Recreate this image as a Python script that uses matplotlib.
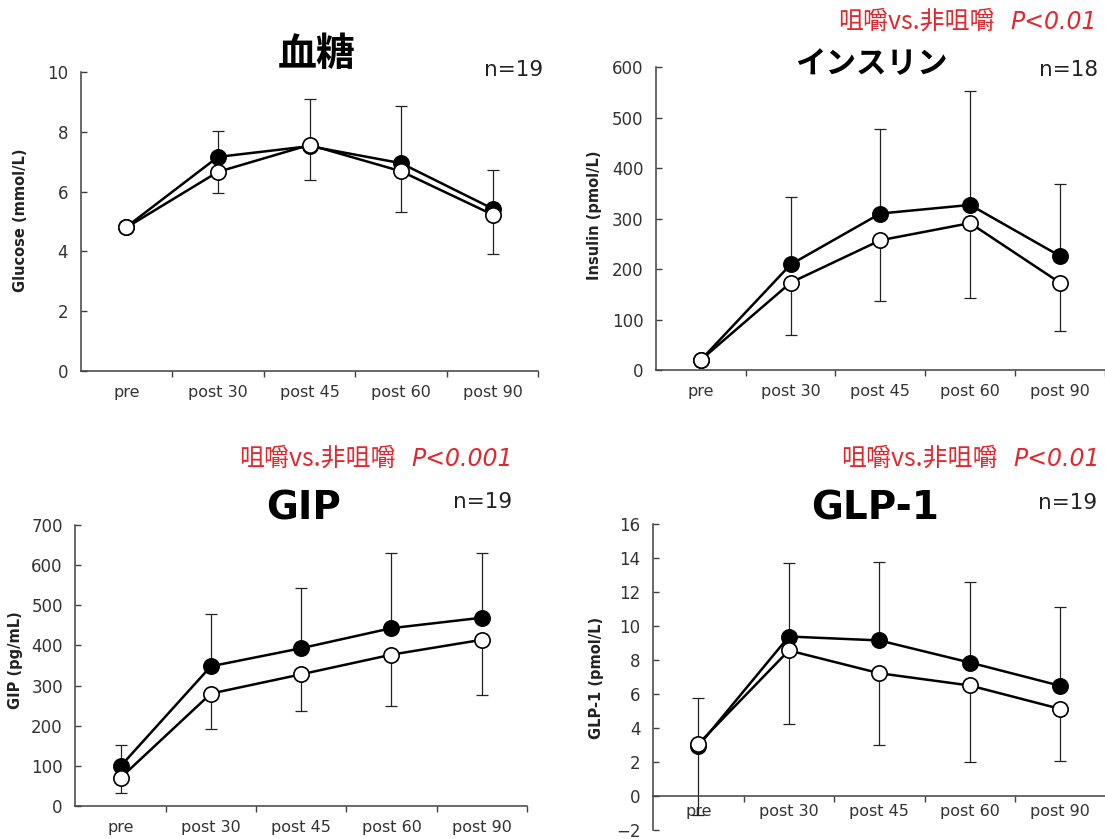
import matplotlib.pyplot as plt
import numpy as np

plt.rcParams['font.family'] = ['DejaVu Sans', 'Noto Sans CJK JP']

times = ['pre', 'post 30', 'post 45', 'post 60', 'post 90']

# glucose (mmol/L)
glu_chew = [4.82, 7.16, 7.52, 6.95, 5.43]
glu_non = [4.80, 6.66, 7.56, 6.68, 5.23]
glu_top = [4.82, 8.03, 9.10, 8.87, 6.71]
glu_bot = [4.80, 5.96, 6.38, 5.32, 3.90]

# insulin (pmol/L)
ins_chew = [20, 209, 310, 327, 226]
ins_non = [20, 173, 257, 291, 173]
ins_top = [20, 342, 478, 552, 368]
ins_bot = [20, 70, 137, 142, 77]

# GIP (pg/mL)
gip_chew = [99, 348, 393, 443, 469]
gip_non = [70, 280, 328, 377, 414]
gip_top = [153, 478, 542, 629, 630]
gip_bot = [32, 191, 237, 249, 277]

# GLP-1 (pmol/L)
glp_chew = [2.94, 9.38, 9.15, 7.85, 6.48]
glp_non = [3.06, 8.56, 7.22, 6.50, 5.12]
glp_top = [5.79, 13.70, 13.74, 12.58, 11.09]
glp_bot = [-1.1, 4.22, 3.00, 2.02, 2.08]

panels = [
    dict(title='血糖', tsize=28, n='n=19', ylabel='Glucose (mmol/L)',
         chew=glu_chew, non=glu_non, top=glu_top, bot=glu_bot,
         ylim=(0, 10), yticks=np.arange(0, 11, 2), p=None,
         pos=[0.0730, 0.5578, 0.4142, 0.3564],
         title_xy=(317, 55), n_xy=(543, 70), yl_xy=(21, 220), p_xy=None),
    dict(title='インスリン', tsize=22, n='n=18', ylabel='Insulin (pmol/L)',
         chew=ins_chew, non=ins_non, top=ins_top, bot=ins_bot,
         ylim=(0, 600), yticks=np.arange(0, 601, 100), p='P<0.01',
         pos=[0.5937, 0.559, 0.406, 0.361],
         title_xy=(871, 65), n_xy=(1098, 70), yl_xy=(595, 215), p_xy=(1097, 22)),
    dict(title='GIP', tsize=28, n='n=19', ylabel='GIP (pg/mL)',
         chew=gip_chew, non=gip_non, top=gip_top, bot=gip_bot,
         ylim=(0, 700), yticks=np.arange(0, 701, 100), p='P<0.001',
         pos=[0.0682, 0.0393, 0.4087, 0.3350],
         title_xy=(304, 508), n_xy=(512, 502), yl_xy=(16, 660), p_xy=(513, 459)),
    dict(title='GLP-1', tsize=28, n='n=19', ylabel='GLP-1 (pmol/L)',
         chew=glp_chew, non=glp_non, top=glp_top, bot=glp_bot,
         ylim=(-2, 16), yticks=np.arange(-2, 17, 2), p='P<0.01',
         pos=[0.5910, 0.0107, 0.4096, 0.3648],
         title_xy=(875, 508), n_xy=(1097, 503), yl_xy=(596, 678), p_xy=(1100, 459)),
]

W, H = 1105, 839
fig = plt.figure(figsize=(W / 100, H / 100), dpi=100)
axis_col = '#404040'
red = '#e0282e'


def fx(px):
    return px / W


def fy(py):
    return 1 - py / H


red_texts = []
for pnl in panels:
    ax = fig.add_axes(pnl['pos'])
    x = np.arange(len(times))
    chew, non = np.array(pnl['chew']), np.array(pnl['non'])
    up = np.array(pnl['top']) - chew
    dn = non - np.array(pnl['bot'])

    ax.errorbar(x, chew, yerr=[np.zeros_like(up), up], fmt='none',
                ecolor='#222222', elinewidth=0.9, capsize=4, capthick=0.9, zorder=2)
    ax.errorbar(x, non, yerr=[dn, np.zeros_like(dn)], fmt='none',
                ecolor='#222222', elinewidth=0.9, capsize=4, capthick=0.9, zorder=2)
    ax.plot(x, chew, color='black', lw=1.8, marker='o', ms=11,
            mfc='black', mec='black', mew=1.2, zorder=3)
    ax.plot(x, non, color='black', lw=1.8, marker='o', ms=11,
            mfc='white', mec='black', mew=1.2, zorder=4)

    ax.set_xlim(-0.5, 4.5)
    ax.set_ylim(*pnl['ylim'])
    ax.set_yticks(pnl['yticks'])
    ax.set_xticks(np.arange(0.5, 4.6, 1))
    ax.set_xticklabels([])
    ax.set_xticks(x, minor=True)
    ax.set_xticklabels(times, minor=True)
    ax.tick_params(axis='x', which='major', direction='out', length=4,
                   color=axis_col, width=1)
    ax.tick_params(axis='x', which='minor', length=0, pad=10,
                   labelsize=11.5, labelcolor='#333333')
    ax.tick_params(axis='y', direction='in', length=4, color=axis_col, width=1,
                   labelsize=12, labelcolor='#333333', pad=9)
    for s in ['top', 'right']:
        ax.spines[s].set_visible(False)
    for s in ['left', 'bottom']:
        ax.spines[s].set_color(axis_col)
        ax.spines[s].set_linewidth(1.1)
    if pnl['ylim'][0] < 0:
        ax.spines['bottom'].set_position(('data', 0))
        ax.tick_params(axis='x', which='minor', pad=6)

    fig.text(fx(pnl['title_xy'][0]), fy(pnl['title_xy'][1]), pnl['title'],
             ha='center', va='center', fontsize=pnl['tsize'], fontweight='bold',
             family=['DejaVu Sans', 'Noto Sans CJK JP'])
    fig.text(fx(pnl['n_xy'][0]), fy(pnl['n_xy'][1]), pnl['n'],
             ha='right', va='center', fontsize=15.5, color='#222222')
    fig.text(fx(pnl['yl_xy'][0]), fy(pnl['yl_xy'][1]), pnl['ylabel'],
             ha='center', va='center', rotation=90, fontsize=10.5,
             fontweight='bold', color='#222222')
    if pnl['p']:
        t = fig.text(fx(pnl['p_xy'][0]), fy(pnl['p_xy'][1]), pnl['p'],
                     ha='right', va='center', fontsize=17, color=red,
                     fontstyle='italic')
        red_texts.append(t)

fig.canvas.draw()
renderer = fig.canvas.get_renderer()
for t in red_texts:
    bb = t.get_window_extent(renderer)
    x0, y0 = t.get_position()
    fig.text(bb.x0 / W - 0.014, y0, '咀嚼vs.非咀嚼', ha='right', va='center',
             fontsize=18, color=red, family=['Noto Sans CJK JP', 'DejaVu Sans'])

fig.savefig('out.png', dpi=100, facecolor='white')
